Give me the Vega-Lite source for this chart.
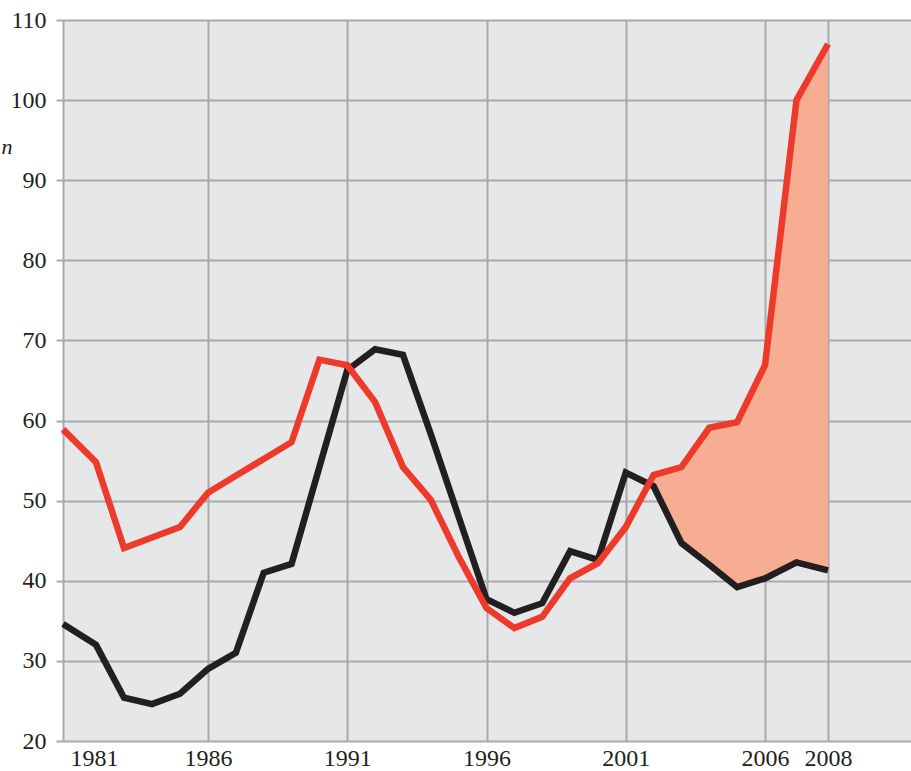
{
  "$schema": "https://vega.github.io/schema/vega-lite/v6.json",
  "width": 848,
  "height": 721,
  "autosize": "none",
  "padding": {"left": 63, "top": 20, "right": 0, "bottom": 30},
  "background": "white",
  "config": {
    "view": {"fill": "#e6e7e8", "stroke": null},
    "axis": {
      "grid": true,
      "gridColor": "#a7a9ac",
      "gridWidth": 2,
      "gridOpacity": 1,
      "domain": false,
      "labelFont": "Liberation Serif",
      "labelFontSize": 24,
      "labelColor": "#231f20"
    }
  },
  "data": {
    "values": [
      {"year": 1981, "dark": 34.6, "red": 58.9},
      {"year": 1982, "dark": 32.0, "red": 54.8},
      {"year": 1983, "dark": 25.4, "red": 44.1},
      {"year": 1984, "dark": 24.6, "red": 45.4},
      {"year": 1985, "dark": 25.9, "red": 46.7},
      {"year": 1986, "dark": 29.0, "red": 51.0},
      {"year": 1987, "dark": 31.0, "red": 53.1},
      {"year": 1988, "dark": 41.0, "red": 55.2},
      {"year": 1989, "dark": 42.1, "red": 57.3},
      {"year": 1990, "dark": 54.2, "red": 67.6},
      {"year": 1991, "dark": 66.3, "red": 66.9},
      {"year": 1992, "dark": 68.9, "red": 62.3},
      {"year": 1993, "dark": 68.2, "red": 54.2},
      {"year": 1994, "dark": 58.3, "red": 50.1},
      {"year": 1995, "dark": 48.0, "red": 43.0},
      {"year": 1996, "dark": 37.7, "red": 36.6},
      {"year": 1997, "dark": 36.0, "red": 34.1},
      {"year": 1998, "dark": 37.2, "red": 35.5},
      {"year": 1999, "dark": 43.7, "red": 40.3},
      {"year": 2000, "dark": 42.6, "red": 42.2},
      {"year": 2001, "dark": 53.5, "red": 46.7},
      {"year": 2002, "dark": 51.8, "red": 53.2},
      {"year": 2003, "dark": 44.7, "red": 54.2},
      {"year": 2004, "dark": 42.0, "red": 59.1},
      {"year": 2005, "dark": 39.2, "red": 59.8},
      {"year": 2006, "dark": 40.3, "red": 66.9},
      {"year": 2007, "dark": 42.3, "red": 100.0},
      {"year": 2008, "dark": 41.3, "red": 107.0}
    ]
  },
  "encoding": {
    "x": {
      "field": "year",
      "type": "quantitative",
      "scale": {"domain": [1981, 1982, 1986, 2006, 2008, 2010.6], "range": [0, 33, 145, 702, 765, 848], "nice": false, "zero": false},
      "axis": {
        "values": [1981, 1986, 1991, 1996, 2001, 2006, 2008],
        "format": "d",
        "ticks": false,
        "labelPadding": 5,
        "labelFlush": true,
        "labelFlushOffset": -7,
        "title": null
      }
    }
  },
  "layer": [
    {
      "transform": [{"filter": "datum.year >= 2002"}],
      "mark": {"type": "area", "color": "#f7ad91", "opacity": 1},
      "encoding": {
        "y": {
          "field": "red",
          "type": "quantitative",
          "scale": {"domain": [20, 110], "nice": false, "zero": false},
          "axis": {
            "values": [20, 30, 40, 50, 60, 70, 80, 90, 100, 110],
            "ticks": true,
            "tickSize": 7,
            "tickColor": "#a7a9ac",
            "tickWidth": 2,
            "labelPadding": 10,
            "title": "n",
            "titleFont": "Liberation Serif",
            "titleFontStyle": "italic",
            "titleFontWeight": "normal",
            "titleFontSize": 22,
            "titleColor": "#231f20",
            "titleAngle": 0,
            "titleAlign": "left",
            "titleBaseline": "alphabetic",
            "titleX": -62,
            "titleY": 133
          }
        },
        "y2": {"field": "dark"}
      }
    },
    {
      "mark": {"type": "line", "color": "#231f20", "strokeWidth": 6.5, "strokeJoin": "miter", "strokeCap": "butt"},
      "encoding": {"y": {"field": "dark", "type": "quantitative"}}
    },
    {
      "mark": {"type": "line", "color": "#ee3a2b", "strokeWidth": 6.5, "strokeJoin": "miter", "strokeCap": "butt"},
      "encoding": {"y": {"field": "red", "type": "quantitative"}}
    }
  ]
}
